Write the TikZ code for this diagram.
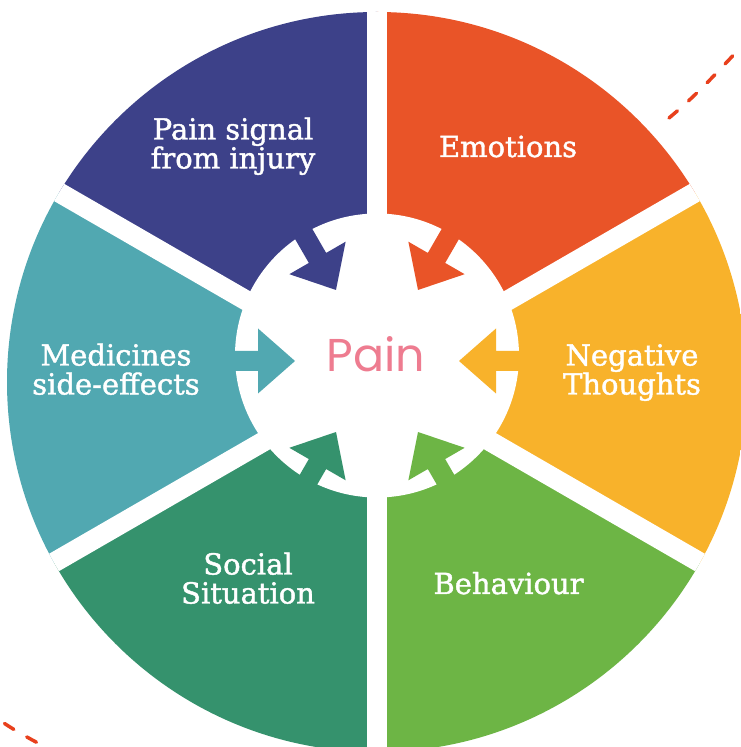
\documentclass[tikz,border=0pt]{standalone}
\usepackage{fontspec}
\setmainfont{DejaVu Serif}[FakeBold=1.4]
\newfontfamily\painfont{Poppins}
\definecolor{wheelpurple}{RGB}{61,65,137}
\definecolor{wheelorange}{RGB}{233,84,40}
\definecolor{wheelyellow}{RGB}{248,178,43}
\definecolor{wheelgreen}{RGB}{109,181,69}
\definecolor{wheelsea}{RGB}{53,146,109}
\definecolor{wheelteal}{RGB}{81,168,177}
\definecolor{painpink}{RGB}{238,124,144}
\definecolor{dashred}{RGB}{232,64,28}
\tikzset{
  seglabel/.style={text=white, align=center, anchor=base, inner sep=0pt,
    font=\fontsize{29}{29}\selectfont},
  painlabel/.style={text=painpink, anchor=base, inner sep=0pt,
    font=\painfont\fontsize{46}{46}\selectfont},
  dashedge/.style={draw=dashred, line width=3.5pt, line cap=round,
    dash pattern=on 11pt off 15pt},
}
\begin{document}
\begin{tikzpicture}[x=1pt,y=1pt]
  \useasboundingbox (0,0) rectangle (741,747);
  \fill[white] (0,0) rectangle (741,747);
  % the six segments
  \begin{scope}
    \clip (377,365) circle[radius=370];
    \foreach \ang/\col in {0/wheelyellow,60/wheelorange,120/wheelpurple,
                           180/wheelteal,240/wheelsea,300/wheelgreen}
      \fill[\col] (377,371) -- ++(\ang-30:600)
        arc[start angle=\ang-30, end angle=\ang+30, radius=600] -- cycle;
    \foreach \ang in {30,90,...,330}
      \draw[white, line width=20pt] (377,371) -- ++(\ang:600);
  \end{scope}
  % middle and the arrows
  \fill[white] (377,391.5) circle[radius=142];
  \foreach \ang/\col in {0/wheelyellow,60/wheelorange,120/wheelpurple,
                         180/wheelteal,240/wheelsea,300/wheelgreen}
    \fill[\col, shift={(377,386)}, rotate=\ang]
      (165,10) -- (119,10) -- (119,32.5) -- (82,0)
      -- (119,-32.5) -- (119,-10) -- (165,-10) -- cycle;
  % labels (two-line ones sit on their last line)
  \node[painlabel] (pain) at (376,375) {Pain};
  \node[seglabel] (injury) at (233,578.5) {Pain signal\\from injury};
  \node[seglabel] (emotions) at (508,590) {Emotions};
  \node[seglabel] (negative) at (632,352.5) {Negative\\Thoughts};
  \node[seglabel] (medicines) at (116,352.5) {Medicines\\side-effects};
  \node[seglabel] (social) at (248,143.5) {Social\\Situation};
  \node[seglabel] (behaviour) at (508.5,153) {Behaviour};
  % dashed bits at the corners
  \coordinate (dashA) at (669,629);
  \coordinate (dashB) at (745,704);
  \coordinate (dashC) at (4.5,23.5);
  \coordinate (dashD) at (62,-9);
  \draw[dashedge] (dashA) to[out=40, in=226] (dashB);
  \draw[dashedge] (dashC) to[out=-33, in=151] (dashD);
\end{tikzpicture}
\end{document}
